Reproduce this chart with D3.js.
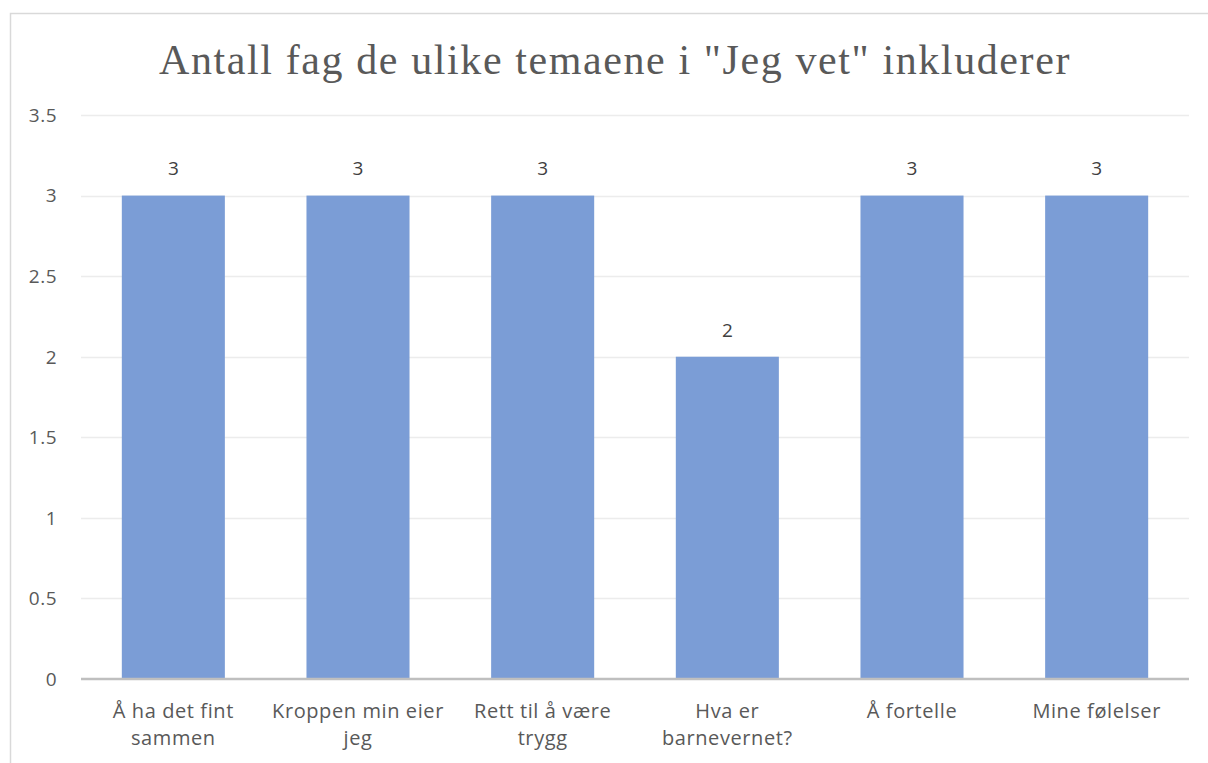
<!DOCTYPE html>
<html>
<head>
<meta charset="utf-8">
<script src="https://cdn.jsdelivr.net/npm/d3@7"></script>
<style>
  body { margin: 0; background: #fff; }
  svg { display: block; }
</style>
</head>
<body>
<svg width="1208" height="763"></svg>
<script>
// data
const categories = [
  ['Å ha det fint', 'sammen'],
  ['Kroppen min eier', 'jeg'],
  ['Rett til å være', 'trygg'],
  ['Hva er', 'barnevernet?'],
  ['Å fortelle'],
  ['Mine følelser']
];
const values = [3, 3, 3, 2, 3, 3];
const yTicks = [0, 0.5, 1, 1.5, 2, 2.5, 3, 3.5];
const title = 'Antall fag de ulike temaene i "Jeg vet" inkluderer';

const svg = d3.select('svg');
const margin = {left: 81, right: 19, top: 115, bottom: 84};
const W = 1208, H = 763;

// chart frame
svg.append('rect')
  .attr('x', 10.5).attr('y', 13.5)
  .attr('width', 1210).attr('height', 760)
  .attr('fill', 'none')
  .attr('stroke', '#d9d9d9')
  .attr('stroke-width', 1.5);

const keys = categories.map((c, i) => i);

var x = d3.scaleBand()
  .domain(keys)
  .range([margin.left, W - margin.right])
  .paddingInner(0.442)
  .paddingOuter(0.221);

var y = d3.scaleLinear()
  .domain([0, 3.5])
  .range([H - margin.bottom, margin.top]);

// title
svg.append('text')
  .attr('x', 615)
  .attr('y', 74)
  .attr('text-anchor', 'middle')
  .attr('font-family', '"Liberation Serif", "Times New Roman", serif')
  .attr('font-size', 42)
  .attr('letter-spacing', 1.6)
  .attr('fill', '#595959')
  .text(title);

// gridlines
svg.append('g')
  .attr('class', 'grid')
  .selectAll('line')
  .data(yTicks.filter(t => t > 0))
  .enter()
  .append('line')
    .attr('x1', margin.left)
    .attr('x2', W - margin.right)
    .attr('y1', d => Math.round(y(d)) + 0.5)
    .attr('y2', d => Math.round(y(d)) + 0.5)
    .attr('stroke', '#ececec')
    .attr('stroke-width', 1.5);

// y axis labels
svg.append('g')
  .attr('class', 'yLabels')
  .selectAll('text')
  .data(yTicks)
  .enter()
  .append('text')
    .attr('x', 57)
    .attr('y', d => y(d))
    .attr('dy', '0.36em')
    .attr('text-anchor', 'end')
    .attr('font-family', '"Open Sans", sans-serif')
    .attr('font-size', 19)
    .attr('letter-spacing', 0.5)
    .attr('fill', '#595959')
    .text(d => d);

// bars
svg.append('g')
  .attr('class', 'bars')
  .selectAll('rect')
  .data(values)
  .enter()
  .append('rect')
    .attr('x', (d, i) => x(i))
    .attr('y', d => y(d))
    .attr('width', x.bandwidth())
    .attr('height', d => y(0) - y(d))
    .attr('fill', '#7b9dd6');

// value labels
svg.append('g')
  .attr('class', 'valueLabels')
  .selectAll('text')
  .data(values)
  .enter()
  .append('text')
    .attr('x', (d, i) => x(i) + x.bandwidth() / 2)
    .attr('y', d => y(d) - 27)
    .attr('dy', '0.36em')
    .attr('text-anchor', 'middle')
    .attr('font-family', '"Open Sans", sans-serif')
    .attr('font-size', 19)
    .attr('fill', '#404040')
    .text(d => d);

// baseline
svg.append('line')
  .attr('x1', margin.left)
  .attr('x2', W - margin.right)
  .attr('y1', y(0))
  .attr('y2', y(0))
  .attr('stroke', '#bfbfbf')
  .attr('stroke-width', 2.5);

// category labels
const cat = svg.append('g')
  .attr('class', 'catLabels')
  .selectAll('text')
  .data(categories)
  .enter()
  .append('text')
    .attr('x', (d, i) => x(i) + x.bandwidth() / 2)
    .attr('y', 718)
    .attr('text-anchor', 'middle')
    .attr('font-family', '"Open Sans", sans-serif')
    .attr('font-size', 20)
    .attr('letter-spacing', 0.6)
    .attr('fill', '#595959');

cat.selectAll('tspan')
  .data(d => d)
  .enter()
  .append('tspan')
    .attr('x', function() { return d3.select(this.parentNode).attr('x'); })
    .attr('dy', (d, i) => i === 0 ? 0 : 27)
    .text(d => d);
</script>
</body>
</html>
